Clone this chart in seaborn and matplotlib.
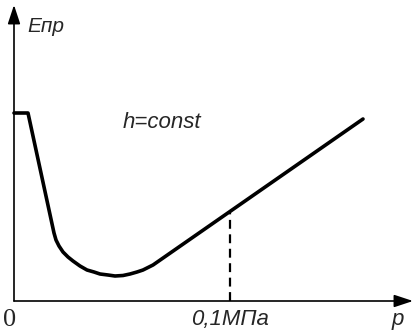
import matplotlib
matplotlib.use("Agg")
import matplotlib.pyplot as plt
import seaborn as sns
import pandas as pd

# curve E(p), arbitrary units (origin at axes crossing)
p_vals = [0, 14, 40, 42, 45, 49, 54, 59, 66, 73, 80, 86, 94, 101, 109, 116, 123, 129, 134, 139, 349]
e_vals = [188, 188, 68, 61, 55, 49, 44, 40, 35, 31, 29, 27, 26, 25, 25.5, 27, 29, 31, 33.5, 36, 182]

p_mark = 216          # position of 0,1 MPa
axis_top = 296
axis_right = 399

sns.set_theme(style="white")
plt.rcParams['font.family'] = ['Liberation Sans', 'DejaVu Sans']

fig = plt.figure(figsize=(4.13, 3.34), dpi=100)
ax = fig.add_axes([0, 0, 1, 1])

df = pd.DataFrame({'p': p_vals, 'E': e_vals})
sns.lineplot(data=df, x='p', y='E', sort=False, estimator=None,
             color='black', lw=2.6, ax=ax)
ax.lines[-1].set_solid_joinstyle('round')

# dashed marker down from the curve to the p axis
e_at_mark = e_vals[-2] + (e_vals[-1] - e_vals[-2]) * (p_mark - p_vals[-2]) / (p_vals[-1] - p_vals[-2])
ax.plot([p_mark, p_mark], [0, e_at_mark], color='black', lw=1.6, ls=(0, (4, 2.5)))

# axes with arrows
arrow = dict(arrowstyle='-|>,head_length=1.15,head_width=0.38', mutation_scale=10,
             lw=1.2, color='black', shrinkA=0, shrinkB=0)
ax.annotate('', xy=(0, axis_top), xytext=(0, 0), arrowprops=arrow)
ax.annotate('', xy=(axis_right, 0), xytext=(0, 0), arrowprops=arrow)

ax.text(13, 275, 'Eпр', fontsize=15, style='italic', va='center', ha='left')
ax.text(109, 178, 'h=const', fontsize=16, style='italic', va='center', ha='left')
ax.text(-4, -19, '0', fontsize=19, family='Liberation Serif', va='center', ha='center')
ax.text(p_mark, -19, '0,1МПа', fontsize=16, style='italic', va='center', ha='center')
ax.text(384, -19, 'p', fontsize=16, style='italic', va='center', ha='center')

ax.set_xlim(-14, 399)
ax.set_ylim(-33, 301)
ax.axis('off')

fig.savefig('out.png', dpi=100)
